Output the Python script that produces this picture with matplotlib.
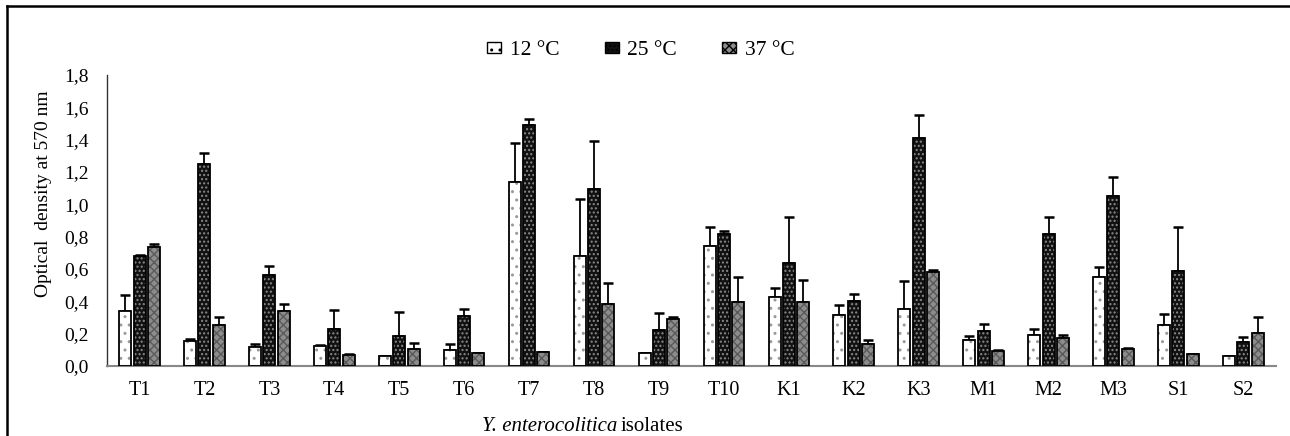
import matplotlib
matplotlib.use("Agg")
import matplotlib.pyplot as plt
import numpy as np
from matplotlib.lines import Line2D
from matplotlib.patches import Patch

categories = ["T1", "T2", "T3", "T4", "T5", "T6", "T7", "T8", "T9", "T10",
              "K1", "K2", "K3", "M1", "M2", "M3", "S1", "S2"]
series_names = ["12 °C", "25 °C", "37 °C"]
od_12 = [0.342, 0.155, 0.115, 0.124, 0.062, 0.100, 1.140, 0.682, 0.078, 0.740,
         0.425, 0.317, 0.352, 0.159, 0.194, 0.552, 0.256, 0.062]
err_12 = [0.095, 0.010, 0.023, 0.005, 0.000, 0.035, 0.240, 0.351, 0.000, 0.120,
          0.057, 0.058, 0.176, 0.029, 0.033, 0.062, 0.067, 0.000]
od_25 = [0.680, 1.250, 0.563, 0.229, 0.188, 0.310, 1.490, 1.097, 0.223, 0.814,
         0.637, 0.404, 1.412, 0.218, 0.818, 1.053, 0.586, 0.148]
err_25 = [0.005, 0.070, 0.057, 0.119, 0.148, 0.040, 0.035, 0.294, 0.107, 0.021,
          0.283, 0.039, 0.140, 0.044, 0.103, 0.118, 0.274, 0.033]
od_37 = [0.734, 0.256, 0.342, 0.068, 0.103, 0.080, 0.085, 0.385, 0.291, 0.398,
         0.398, 0.136, 0.579, 0.093, 0.171, 0.103, 0.072, 0.204]
err_37 = [0.022, 0.047, 0.039, 0.005, 0.041, 0.000, 0.000, 0.126, 0.014, 0.152,
          0.134, 0.023, 0.017, 0.003, 0.021, 0.010, 0.000, 0.097]
y_ticks = [0.0, 0.2, 0.4, 0.6, 0.8, 1.0, 1.2, 1.4, 1.6, 1.8]

plt.rcParams['font.family'] = ['Liberation Serif', 'DejaVu Serif']
plt.rcParams['hatch.linewidth'] = 1.0

fig = plt.figure(figsize=(12.9, 4.36), dpi=100)
ax = fig.add_axes([0.083, 0.1606, 0.906, 0.6674])

x = np.arange(len(categories))
w = 0.185
off = 0.22
styles = [
    dict(face="white", hatch="..", hcol="#9a9a9a"),
    dict(face="#111111", hatch="....", hcol="#8a8a8a"),
    dict(face="#8c8c8c", hatch="xxxx", hcol="#5a5a5a"),
]
vals = [od_12, od_25, od_37]
errs = [err_12, err_25, err_37]
handles = []
for i, (v, e, st) in enumerate(zip(vals, errs, styles)):
    pos = x + (i - 1) * off
    ax.bar(pos, v, width=w, color=st["face"], edgecolor="none", zorder=2)
    ax.bar(pos, v, width=w, fill=False, hatch=st["hatch"], edgecolor=st["hcol"],
           linewidth=0, zorder=3)
    ax.bar(pos, v, width=w, fill=False, edgecolor="black", linewidth=1.3, zorder=4)
    ax.errorbar(pos, v, yerr=[np.zeros(len(e)), e], fmt="none", ecolor="black",
                elinewidth=1.3, capsize=3.5, capthick=1.8, zorder=1)
    handles.append(Patch(facecolor=st["face"], edgecolor="black", hatch=st["hatch"],
                         linewidth=1.0))

ax.set_xlim(-0.5, len(categories) - 0.5)
ax.set_ylim(0, 1.8)
ax.set_yticks(y_ticks)
ax.set_yticklabels([f"{t:.1f}".replace(".", ",") for t in y_ticks], fontsize=14)
ax.set_xticks(x)
ax.set_xticklabels(categories, fontsize=14.5)
ax.tick_params(axis="y", length=0, pad=13)
ax.tick_params(axis="x", length=0, pad=11)
for s in ["top", "right"]:
    ax.spines[s].set_visible(False)
ax.spines["left"].set_color("#333333")
ax.spines["left"].set_linewidth(1.0)
ax.spines["bottom"].set_color("#888888")
ax.spines["bottom"].set_linewidth(1.5)

ax.set_ylabel("Optical  density at 570 nm", fontsize=14)
ax.yaxis.set_label_coords(-0.047, 0.591)

fig.text(617 / 1290, 1 - 426 / 436, "Y. enterocolitica", fontsize=15,
         fontstyle="italic", ha="right", va="center")
fig.text(621 / 1290, 1 - 426 / 436, "isolates", fontsize=15, ha="left", va="center")

leg = fig.legend(handles, series_names, loc="center", bbox_to_anchor=(0.497, 0.884),
                 ncol=3, frameon=False, fontsize=15.5, handlelength=0.65, handleheight=0.45,
                 handletextpad=0.4, columnspacing=2.1)

fig.add_artist(Line2D([0.0055, 0.0055], [-0.1, 0.986], transform=fig.transFigure,
                      color="black", linewidth=1.8))
fig.add_artist(Line2D([0.0055, 1.1], [0.986, 0.986], transform=fig.transFigure,
                      color="black", linewidth=1.8))

fig.savefig("out.png", dpi=100)
